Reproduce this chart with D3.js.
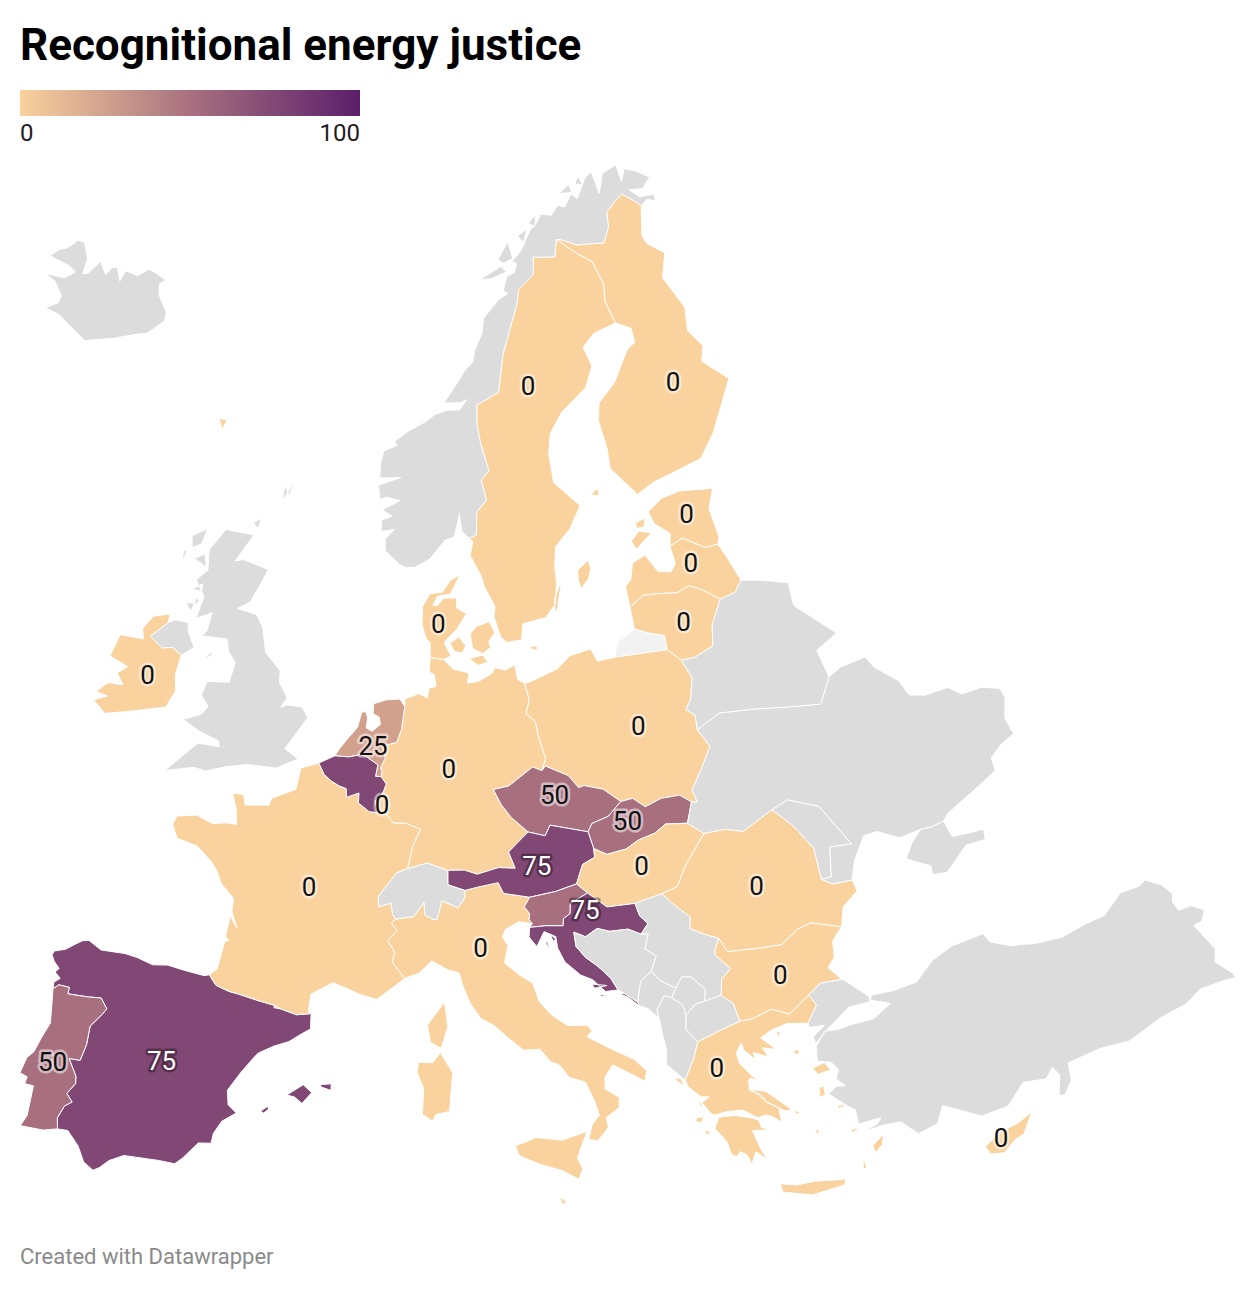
<!DOCTYPE html>
<html>
<head>
<meta charset="utf-8">
<script src="https://cdn.jsdelivr.net/npm/d3@7"></script>
<style>
  body { margin: 0; background: #fff; }
  text { font-family: Roboto, sans-serif; }
</style>
</head>
<body>
<svg id="chart" width="1256" height="1290"></svg>
<script>
// scored countries, in the order of the map labels
const labelNames = ['Sweden','Finland','Estonia','Latvia','Lithuania','Denmark','Ireland','Netherlands','Luxembourg','Germany','Poland','Czechia','Slovakia','Austria','Hungary','Romania','Croatia','Bulgaria','Greece','Italy','France','Spain','Portugal','Cyprus'];
const labelValues = [0,0,0,0,0,0,0,25,0,0,0,50,50,75,0,0,75,0,0,0,0,75,50,0];
const labelLonLat = [[16.27,64.15],[27.4,63.35],[25.87,58.85],[25.37,57.17],[24.1,55.22],[9.15,56.07],[-7.77,53.13],[5.48,51.82],[6.12,49.8],[9.7,51.06],[20.39,52],[15.37,49.99],[19.07,48.82],[14.16,47.6],[19.47,47.2],[25,45.82],[16.4,45.93],[25.25,42.66],[21.63,39.9],[11.17,44.87],[2.6,46.8],[-3.4,40.2],[-8.2,39.43],[33.05,35.2]];
// scored without a label of their own
const unlabelledNames = ['Belgium','Slovenia','Malta'];
const unlabelledValues = [75,50,0];
const legendTicks = [0,100];

// outlines, [lon, lat]
const spain = [
  [[-8.87,41.87],[-8.9,42.1],[-8.65,42.28],[-8.95,42.45],[-8.8,42.6],[-9.1,42.8],[-9.27,43],[-9.2,43.15],[-8.7,43.3],[-8.3,43.55],[-8,43.72],[-7.7,43.78],[-7.05,43.55],[-5.9,43.6],[-5.3,43.55],[-4.5,43.4],[-3.8,43.48],[-3,43.4],[-2,43.32],[-1.78,43.38],[-1.4,43.05],[-0.75,42.9],[-0.3,42.85],[0.7,42.7],[1.45,42.6],[1.75,42.5],[2.5,42.35],[3.18,42.43],[3.18,42.25],[3.2,41.9],[2.8,41.7],[2.25,41.4],[1.6,41.2],[0.9,40.9],[0.7,40.7],[0.2,40.15],[-0.3,39.5],[-0.2,39],[0.2,38.75],[-0.4,38.4],[-0.7,37.95],[-0.75,37.6],[-1.3,37.55],[-1.9,36.95],[-2.2,36.72],[-2.9,36.75],[-4.4,36.72],[-5,36.45],[-5.35,36.15],[-5.6,36.02],[-6.05,36.25],[-6.4,36.75],[-6.95,37.2],[-7.4,37.18],[-7.5,37.55],[-7.3,38],[-7,38.2],[-7.3,38.45],[-7,38.85],[-7.05,39.1],[-7.5,39.65],[-7,39.67],[-6.85,40.25],[-6.85,40.9],[-6.4,41.4],[-6.25,41.6],[-6.6,41.93],[-7.2,41.87],[-7.6,41.85],[-8.15,41.82],[-8.15,42.05],[-8.65,42.05]],
  [[2.35,39.55],[3.05,39.95],[3.45,39.7],[3.05,39.3],[2.7,39.5]],
  [[3.8,40],[4.3,40.05],[4.3,39.82],[3.85,39.92]],
  [[1.25,38.9],[1.55,39.1],[1.6,39],[1.4,38.85]]
];
const portugal = [
  [[-8.87,41.87],[-8.78,41.4],[-8.65,40.7],[-8.9,40.15],[-9.1,39.6],[-9.35,39.35],[-9.5,38.78],[-9.15,38.7],[-9.2,38.45],[-8.8,38.45],[-8.8,37.95],[-8.8,37.4],[-9,37],[-8,37.03],[-7.4,37.18],[-7.5,37.55],[-7.3,38],[-7,38.2],[-7.3,38.45],[-7,38.85],[-7.05,39.1],[-7.5,39.65],[-7,39.67],[-6.85,40.25],[-6.85,40.9],[-6.4,41.4],[-6.25,41.6],[-6.6,41.93],[-7.2,41.87],[-7.6,41.85],[-8.15,41.82],[-8.15,42.05],[-8.65,42.05]]
];
const andorra = [[[1.42,42.52],[1.45,42.65],[1.75,42.62],[1.72,42.5]]];
const france = [
  [[-1.78,43.38],[-1.45,43.6],[-1.25,44.6],[-1.05,44.65],[-1.25,44.75],[-1.15,45.5],[-0.75,45.1],[-1.1,45.65],[-1.1,46.1],[-1.8,46.55],[-2.15,47],[-2.55,47.3],[-3.3,47.7],[-4.4,47.85],[-4.75,48.3],[-4.6,48.6],[-3.6,48.75],[-2.7,48.55],[-2,48.65],[-1.45,48.65],[-1.6,49.2],[-1.9,49.7],[-1.3,49.7],[-1.15,49.35],[0.1,49.45],[0.2,49.7],[1.45,50.1],[1.6,50.85],[2.55,51.08],[2.9,50.7],[3.3,50.5],[3.75,50.35],[4.15,50.27],[4.2,49.97],[4.85,50.15],[4.85,49.8],[5.45,49.52],[5.9,49.5],[6.37,49.46],[6.75,49.17],[7.4,49.17],[8.2,48.97],[7.8,48.4],[7.55,47.6],[7,47.45],[6.9,47.35],[6.45,46.95],[6.1,46.6],[6.15,46.25],[6.75,46.4],[6.85,46],[7,45.85],[6.8,45.7],[7.1,45.45],[6.65,45.1],[7,44.7],[6.9,44.35],[7.5,43.8],[6.9,43.45],[6.2,43.05],[5.4,43.2],[4.7,43.4],[4.1,43.55],[3.1,43.1],[3.03,42.5],[3.18,42.43],[2.5,42.35],[1.75,42.5],[1.45,42.6],[0.7,42.7],[-0.3,42.85],[-0.75,42.9],[-1.4,43.05]],
  [[9.4,43],[9.55,42.15],[9.25,41.4],[8.75,41.6],[8.6,42.2],[9.1,42.7]]
];
const italy = [
  [[7.5,43.8],[6.9,44.35],[7,44.7],[6.65,45.1],[7.1,45.45],[6.8,45.7],[7,45.85],[7.9,45.95],[8.4,46.45],[8.45,46],[8.9,45.85],[9.05,45.85],[9.3,46.5],[10.1,46.25],[10.45,46.6],[10.45,46.85],[11.1,46.95],[12.15,47.08],[12.4,46.7],[13.7,46.52],[13.4,46.2],[13.65,45.95],[13.6,45.75],[13.75,45.6],[13.1,45.7],[12.4,45.45],[12.25,45.2],[12.5,44.9],[12.3,44.3],[13,43.85],[13.6,43.55],[13.85,42.9],[14.4,42.4],[15.1,42],[16,41.95],[16.2,41.75],[15.95,41.55],[17,41.05],[18,40.6],[18.5,40.15],[18.35,39.8],[18,40],[17,40.5],[16.6,40.1],[16.55,39.7],[17.15,39.35],[17.1,39],[16.5,38.7],[16.55,38.35],[16.05,37.93],[15.65,38],[15.85,38.5],[16.2,38.8],[16.05,39.3],[15.7,40],[15,40.2],[14.6,40.65],[14.2,40.8],[13.75,41.25],[13,41.25],[12.25,41.75],[11.7,42.15],[11.1,42.4],[10.6,42.95],[10.3,43.5],[10.1,44],[9.6,44.1],[8.8,44.42],[8.2,44]],
  [[12.45,37.95],[12.85,38.05],[13.35,38.2],[14.5,38.05],[15.6,38.28],[15.1,37.4],[15.3,37],[15.1,36.65],[14.4,37],[13.5,37.25],[12.6,37.6]],
  [[8.2,40.9],[8.85,40.9],[9.2,41.25],[9.75,40.55],[9.6,39.2],[9,39.1],[8.85,38.87],[8.4,39.1],[8.45,40],[8.15,40.55]]
];
const malta = [[[14.2,36.08],[14.55,35.9],[14.35,35.82]]];
const germany = [
  [[8.65,54.9],[9.45,54.83],[10,54.5],[10.95,54.35],[10.85,54],[11.5,54.05],[12.3,54.3],[12.5,54.5],[13.1,54.4],[13.7,54.55],[13.8,54.05],[14.2,53.9],[14.4,53.3],[14.15,52.85],[14.65,52.55],[14.75,52.05],[15.05,51.25],[14.8,50.85],[14.3,51],[12.95,50.4],[12.1,50.3],[12.5,49.75],[13,49.3],[13.83,48.77],[13.45,48.55],[12.75,48.12],[13.05,47.55],[12.2,47.6],[11.1,47.4],[10.45,47.55],[9.6,47.55],[8.55,47.8],[7.55,47.6],[7.8,48.4],[8.2,48.97],[7.4,49.17],[6.75,49.17],[6.37,49.46],[6.5,49.8],[6.1,50.13],[6.3,50.5],[6,50.75],[6.05,50.9],[5.95,51.05],[6.2,51.4],[6,51.8],[6.8,51.95],[7.05,52.4],[7.2,53.2],[7.2,53.45],[8,53.65],[8.5,53.5],[8.6,53.85],[9,53.9],[8.9,54.3],[8.6,54.4]]
];
const netherlands = [
  [[3.4,51.37],[4.2,51.37],[4.8,51.47],[5.1,51.43],[5.55,51.25],[5.8,51.15],[5.7,50.75],[6,50.75],[6.05,50.9],[5.95,51.05],[6.2,51.4],[6,51.8],[6.8,51.95],[7.05,52.4],[7.2,53.2],[6.9,53.45],[6.1,53.4],[5.4,53.25],[5.4,52.9],[5.75,52.8],[5.85,52.55],[5.4,52.3],[5.05,52.4],[5.1,52.75],[5,52.95],[4.75,52.95],[4.55,52.4],[4.05,52],[3.6,51.6]]
];
const belgium = [
  [[2.55,51.08],[3.4,51.37],[4.2,51.37],[4.8,51.47],[5.1,51.43],[5.55,51.25],[5.8,51.15],[5.7,50.75],[6,50.75],[6.3,50.5],[6.1,50.13],[5.75,49.9],[5.9,49.5],[5.45,49.52],[4.85,49.8],[4.85,50.15],[4.2,49.97],[4.15,50.27],[3.75,50.35],[3.3,50.5],[2.9,50.7]]
];
const luxembourg = [[[6.1,50.13],[6.5,49.8],[6.37,49.46],[5.9,49.5],[5.75,49.9]]];
const denmark = [
  [[8.65,54.9],[9.45,54.83],[9.9,54.95],[9.5,55.4],[9.7,55.55],[10.25,55.85],[10.9,56.4],[10.3,56.6],[10.3,56.95],[9.5,56.95],[9.1,56.7],[8.8,56.7],[9.1,57.02],[9.9,57.08],[10.55,57.75],[9.9,57.55],[9.4,57.15],[8.6,57.1],[8.15,56.65],[8.15,56],[8.4,55.55],[8.65,55.4]],
  [[9.85,55.4],[10.4,55.6],[10.8,55.3],[10.6,55.05],[10.1,55.1]],
  [[11.1,55.7],[11.5,55.95],[12.3,56.1],[12.6,55.7],[12.2,55.4],[12.3,55.2],[11.8,55],[11.2,55.2]],
  [[11,54.85],[11.8,54.95],[12.1,54.7],[11.5,54.6]],
  [[14.7,55.15],[15.1,55.15],[15.1,55],[14.75,55.05]],
  [[-7.2,62.3],[-6.6,62.3],[-6.8,61.95]]
];
const sweden = [
  [[11.2,59],[11.45,58.9],[11.25,58.4],[11.9,57.7],[12.1,57.3],[12.7,56.6],[12.6,56.25],[12.95,55.55],[13.3,55.35],[14.2,55.4],[14.35,55.95],[15.8,56.1],[16.5,56.55],[16.7,57.3],[16.7,57.8],[16.9,58.5],[18,59.05],[18.9,59.8],[17.3,60.7],[17.2,61.7],[17.5,62.4],[18.6,63.1],[20.7,63.8],[21.5,64.5],[21.1,65.2],[22.2,65.6],[24.15,65.8],[23.7,66.6],[23.95,67.2],[23.4,68.05],[22,68.5],[20.55,69.05],[20.1,68.45],[18.1,68.55],[17.9,67.95],[16.4,67.5],[16.1,67],[14.5,65.3],[14.1,64.45],[13.9,64],[12.15,63.6],[12.1,62.9],[12.3,62.25],[12.8,61.3],[12.2,61],[12.5,60.3],[11.8,59.9],[11.7,59.1]],
  [[18.1,57.25],[18.15,57.6],[18.9,57.9],[19,57.6],[18.75,57.25],[18.2,56.95]],
  [[16.4,56.2],[16.45,56.7],[17.05,57.35],[16.6,56.4]]
];
const finland = [
  [[24.15,65.8],[25.3,65.5],[25.3,65],[24.55,64.8],[23,63.8],[21.5,63.2],[21.2,62.6],[21.45,61.6],[21.4,60.9],[22,60.5],[22.9,59.85],[24.2,60.15],[25.5,60.3],[27.8,60.55],[29.2,61.3],[31.55,62.9],[30,63.75],[30.5,64.25],[29.7,64.9],[30.1,65.7],[29.1,66.9],[30,67.7],[28.7,68.2],[28.5,68.5],[28.95,69.05],[29.35,69.5],[28.9,69.7],[27.9,70.08],[27,69.9],[25.9,69.6],[25.7,69.1],[24.9,68.6],[22.4,68.72],[21,69],[20.55,69.05],[22,68.5],[23.4,68.05],[23.95,67.2],[23.7,66.6]],
  [[19.7,60.1],[20.3,60.3],[20.3,60.05]]
];
const norway = [
  [[11.2,59],[10.75,59.25],[10.6,59.85],[10.45,59.5],[10.2,59.05],[9.6,58.95],[8.6,58.3],[7.6,58],[7,58],[6.6,58.1],[5.65,58.55],[5.6,58.95],[6.2,59.3],[5.3,59.2],[5.3,59.6],[6,59.75],[5.3,59.95],[6.5,60.3],[5.5,60.4],[5.1,60.3],[4.95,60.8],[6.5,61.1],[5,61.05],[5,61.6],[5.2,62],[6.1,62.2],[5.95,62.35],[6.9,62.7],[8.2,63.05],[8.9,63.3],[9.8,63.45],[10.8,63.45],[11.4,63.8],[10.9,63.7],[9.6,63.7],[10.7,64.4],[11.3,64.8],[12,65.1],[12.2,65.5],[12.9,66.1],[13.1,66.6],[14.5,67.2],[15.4,67.4],[15,67.5],[15.5,68],[16.2,68.1],[16.5,68.4],[16.1,68.5],[17,68.8],[17.5,69.1],[18.2,69.5],[19,69.75],[19.5,70],[20.5,69.9],[21.3,70.2],[22,70.1],[22.9,70.5],[23.4,70.3],[24.7,70.95],[25.5,71.1],[25.7,70.3],[26.6,70.95],[27.5,71.05],[28.2,71.1],[28.25,70.5],[28.9,70.9],[30,70.7],[31.1,70.35],[30,70.05],[28.7,70.15],[29.5,69.8],[30.9,69.75],[30.85,69.5],[30.1,69.65],[29.35,69.5],[28.9,69.7],[27.9,70.08],[27,69.9],[25.9,69.6],[25.7,69.1],[24.9,68.6],[22.4,68.72],[21,69],[20.55,69.05],[20.1,68.45],[18.1,68.55],[17.9,67.95],[16.4,67.5],[16.1,67],[14.5,65.3],[14.1,64.45],[13.9,64],[12.15,63.6],[12.1,62.9],[12.3,62.25],[12.8,61.3],[12.2,61],[12.5,60.3],[11.8,59.9],[11.7,59.1]],
  [[13,67.95],[15,68.35],[15.5,68.15],[14,67.95]],
  [[14.8,68.6],[15.9,69.2],[16.2,68.6],[15.3,68.45]],
  [[16.9,69.35],[17.9,69.55],[17.4,69.1]],
  [[18.1,69.75],[19,70],[18.7,69.6]],
  [[21.7,70.6],[22.9,70.85],[23,70.55]],
  [[23.5,70.8],[24,71.05],[24.3,70.75]]
];
const estonia = [
  [[23.4,59.2],[24.5,59.55],[25.8,59.65],[28,59.45],[27.4,58.8],[27.55,57.8],[27.35,57.55],[26.5,57.55],[25.2,58.05],[24.3,57.87],[24.5,58.3],[23.6,58.75]],
  [[21.9,58.3],[22.5,58.6],[23.3,58.45],[22.1,58]],
  [[22.4,58.9],[23.1,59],[22.9,58.7],[22.4,58.7]]
];
const latvia = [
  [[21,56.8],[21.05,56.07],[22,56.4],[23,56.35],[24.1,56.25],[24.9,56.4],[25.7,56.15],[26.6,55.7],[27.6,55.8],[28.15,56.15],[27.7,57],[27.35,57.55],[26.5,57.55],[25.2,58.05],[24.3,57.87],[24.4,57.25],[24,57],[23.2,57.1],[22.6,57.75],[21.7,57.55],[21.4,57]]
];
const lithuania = [
  [[21.05,56.07],[21.1,55.3],[22,55.05],[22.8,54.9],[22.8,54.4],[23.5,53.95],[24.3,53.95],[25.5,54.2],[25.75,54.9],[26.6,55.7],[25.7,56.15],[24.9,56.4],[24.1,56.25],[23,56.35],[22,56.4]]
];
const kaliningrad = [[[19.65,54.45],[19.9,54.85],[20,54.95],[21.1,55.3],[22,55.05],[22.8,54.9],[22.8,54.4]]];
const poland = [
  [[14.2,53.9],[14.6,53.95],[16.2,54.3],[17,54.7],[18.3,54.85],[18.6,54.4],[19.65,54.45],[22.8,54.4],[23.5,53.95],[23.9,53.3],[23.6,52.6],[23.2,52.25],[23.65,52],[23.6,51.5],[24.1,50.85],[23.5,50.25],[22.7,49.5],[22.85,49.05],[22.55,49.1],[22,49.4],[21,49.4],[20.1,49.2],[19.5,49.55],[18.85,49.5],[18,50],[17,50.2],[16.7,50.15],[16.2,50.6],[15,51],[14.8,50.85],[15.05,51.25],[14.75,52.05],[14.65,52.55],[14.15,52.85],[14.4,53.3]]
];
const czechia = [
  [[12.1,50.3],[12.95,50.4],[14.3,51],[14.8,50.85],[15,51],[16.2,50.6],[16.7,50.15],[17,50.2],[18,50],[18.85,49.5],[18.1,49.05],[17.2,48.87],[16.95,48.6],[15,48.95],[14.7,48.6],[13.83,48.77],[13,49.3],[12.5,49.75]]
];
const slovakia = [
  [[16.95,48.6],[17.2,48.87],[18.1,49.05],[18.85,49.5],[19.5,49.55],[20.1,49.2],[21,49.4],[22,49.4],[22.55,49.1],[22.15,48.4],[21,48.5],[20.4,48.25],[19.5,48.1],[18.8,47.85],[17.8,47.75],[17.15,48]]
];
const austria = [
  [[9.6,47.55],[10.45,47.55],[11.1,47.4],[12.2,47.6],[13.05,47.55],[12.75,48.12],[13.45,48.55],[13.83,48.77],[14.7,48.6],[15,48.95],[16.95,48.6],[17.15,48],[17.15,47.7],[16.5,47.5],[16.1,46.85],[15,46.65],[13.7,46.52],[12.4,46.7],[12.15,47.08],[11.1,46.95],[10.45,46.85],[9.6,47.05]]
];
const hungary = [
  [[16.1,46.85],[16.5,47.5],[17.15,47.7],[17.15,48],[17.8,47.75],[18.8,47.85],[19.5,48.1],[20.4,48.25],[21,48.5],[22.15,48.4],[22.9,47.95],[21.7,47],[21.1,46.3],[20.3,46.15],[18.9,45.95],[17.5,45.95],[16.6,46.5]]
];
const slovenia = [
  [[13.7,46.52],[15,46.65],[16.1,46.85],[16.6,46.5],[15.7,46.2],[15.65,45.85],[15.3,45.7],[15.25,45.45],[14.4,45.5],[13.6,45.48],[13.75,45.6],[13.6,45.75],[13.65,45.95],[13.4,46.2]]
];
const croatia = [
  [[13.6,45.48],[14.4,45.5],[15.25,45.45],[15.3,45.7],[15.65,45.85],[15.7,46.2],[16.6,46.5],[17.5,45.95],[18.9,45.95],[19.05,45.5],[19.4,45.2],[19,44.87],[18.4,45.1],[17.5,45.1],[16.9,45.25],[16.3,45],[15.75,45.2],[15.8,44.7],[16.2,44.3],[16.75,43.95],[17.3,43.5],[17.6,43.05],[17,43.05],[16.45,43.5],[15.9,43.7],[15.2,44.2],[14.9,44.7],[14.85,45.1],[14.3,45.3],[13.9,44.8],[13.55,45.15]],
  [[17.6,42.93],[18,42.78],[18.5,42.42],[18.45,42.55],[17.9,42.9]],
  [[14.4,45],[14.55,44.65],[14.35,44.9]],
  [[14.6,45.2],[14.85,45],[14.7,44.95]],
  [[16.4,43.35],[17.1,43.25],[16.5,43.2]],
  [[16.7,42.97],[17.2,42.93],[16.8,42.9]]
];
const bosnia = [
  [[15.75,45.2],[16.3,45],[16.9,45.25],[17.5,45.1],[18.4,45.1],[19,44.87],[19.35,44.85],[19.1,44.35],[19.6,44.05],[19.25,43.55],[18.7,43.25],[18.45,42.55],[17.9,42.9],[17.6,43.05],[17.3,43.5],[16.75,43.95],[16.2,44.3],[15.8,44.7]]
];
const serbia = [
  [[18.9,45.95],[20.3,46.15],[20.75,45.75],[21.5,45.2],[21.4,44.8],[22,44.55],[22.7,44.3],[22.4,43.9],[22.4,43.75],[23,43.2],[22.5,42.9],[22.35,42.35],[21.55,42.25],[21.65,42.65],[21.1,43.15],[20.65,43.2],[20.3,42.85],[19.6,43.2],[19.25,43.55],[19.6,44.05],[19.1,44.35],[19.35,44.85],[19,44.87],[19.4,45.2],[19.05,45.5]]
];
const kosovo = [[[20.05,42.55],[20.3,42.85],[20.65,43.2],[21.1,43.15],[21.65,42.65],[21.55,42.25],[21.1,42.2],[20.6,41.87],[20.5,42.25]]];
const montenegro = [[[18.45,42.55],[18.7,43.25],[19.25,43.55],[19.6,43.2],[20.3,42.85],[20.05,42.55],[19.7,42.65],[19.3,42.2],[19.35,41.9],[18.9,42.28],[18.5,42.42]]];
const albania = [[[19.35,41.9],[19.3,42.2],[19.7,42.65],[20.05,42.55],[20.5,42.25],[20.6,41.87],[20.5,41.4],[20.95,40.9],[20.7,40.4],[20.15,39.65],[19.4,40.3],[19.5,40.75],[19.4,41.4]]];
const macedonia = [[[20.6,41.87],[21.1,42.2],[21.55,42.25],[22.35,42.35],[22.85,42],[23,41.35],[22,41.15],[20.95,40.9],[20.5,41.4]]];
const bulgaria = [
  [[22.7,44.3],[23,43.8],[24.5,43.7],[25.6,43.65],[26.5,44.05],[27.2,44.15],[28.58,43.75],[28,43.35],[27.9,42.8],[27.5,42.5],[28,42],[27,42.05],[26.35,41.75],[25.3,41.25],[24.5,41.55],[23.6,41.35],[23,41.35],[22.85,42],[22.35,42.35],[22.5,42.9],[23,43.2],[22.4,43.75],[22.4,43.9]]
];
const romania = [
  [[20.3,46.15],[21.1,46.3],[21.7,47],[22.9,47.95],[24,47.95],[24.9,47.75],[26.6,48.25],[27.5,47.5],[28.2,46.6],[28.2,45.5],[28.7,45.25],[29.65,45.2],[29.75,44.8],[28.9,44.4],[28.58,43.75],[27.2,44.15],[26.5,44.05],[25.6,43.65],[24.5,43.7],[23,43.8],[22.7,44.3],[22,44.55],[21.4,44.8],[21.5,45.2],[20.75,45.75]]
];
const moldova = [[[26.6,48.25],[27.5,48.45],[29,47.95],[30.1,46.4],[29,46.5],[28.7,45.5],[28.2,45.5],[28.2,46.6],[27.5,47.5]]];
const ukraine = [
  [[22.15,48.4],[22.55,49.1],[22.85,49.05],[22.7,49.5],[23.5,50.25],[24.1,50.85],[23.6,51.5],[25,51.9],[27,51.75],[29,51.5],[30.6,51.3],[31.5,52.1],[32.3,52.3],[33.8,52.35],[34.1,51.9],[34.4,51.7],[35.1,51.2],[35.4,50.6],[36.2,50.4],[37.5,50.35],[38.1,49.95],[39.2,49.9],[40.1,49.6],[40.15,49.25],[39.7,48.6],[39.8,48],[39,47.85],[38.25,47.55],[38.2,47.1],[36.8,46.75],[35.2,46.35],[34.85,46.15],[34.2,46.1],[33.65,46.15],[32.5,46.1],[31.5,46.55],[30.8,46.55],[30,45.8],[29.65,45.2],[28.7,45.25],[28.2,45.5],[28.7,45.5],[29,46.5],[30.1,46.4],[29,47.95],[27.5,48.45],[26.6,48.25],[24.9,47.75],[24,47.95],[22.9,47.95]],
  [[33.65,46.15],[33,45.8],[32.5,45.35],[33,45.1],[33.55,44.85],[33.5,44.55],[34.2,44.45],[35,44.85],[35.5,45.1],[36.5,45.05],[36.6,45.4],[35.9,45.45],[35,45.55],[34.85,46.15],[34.2,46.1]]
];
const belarus = [
  [[23.6,52.6],[23.9,53.3],[23.5,53.95],[24.3,53.95],[25.5,54.2],[25.75,54.9],[26.6,55.7],[27.6,55.8],[28.15,56.15],[29.4,55.95],[30.9,55.6],[30.8,54.8],[32.7,53.45],[31.3,53.1],[31.5,52.1],[30.6,51.3],[29,51.5],[27,51.75],[25,51.9],[23.6,51.5],[23.65,52],[23.2,52.25]]
];
const switzerland = [
  [[7.55,47.6],[8.55,47.8],[9.6,47.55],[9.6,47.05],[10.45,46.85],[10.45,46.6],[10.1,46.25],[9.3,46.5],[9.05,45.85],[8.9,45.85],[8.45,46],[8.4,46.45],[7.9,45.95],[7,45.85],[6.85,46],[6.75,46.4],[6.15,46.25],[6.1,46.6],[6.45,46.95],[6.9,47.35],[7,47.45]]
];
const greece = [
  [[20.15,39.65],[20.7,40.4],[20.95,40.9],[22,41.15],[23,41.35],[23.6,41.35],[24.5,41.55],[25.3,41.25],[26.35,41.75],[26.6,41.35],[26.05,40.8],[25.1,40.95],[24.4,40.85],[23.8,40.65],[24.4,40.15],[23.8,40.3],[24,39.95],[23.35,40.2],[23.4,39.95],[22.95,40.35],[22.9,40.6],[22.6,40.3],[22.65,39.95],[23,39.55],[23.35,39.2],[23.05,39.35],[22.95,39.3],[22.9,38.95],[23.4,38.7],[23.55,38.45],[24.05,38.15],[24.05,37.65],[23.7,37.9],[23.4,38],[23.1,37.95],[22.9,38.05],[22.5,38.3],[21.8,38.35],[21.25,38.3],[21.1,38.35],[20.75,38.8],[21.1,38.95],[20.75,39],[20.25,39.4]],
  [[21.7,38.2],[22.2,38.15],[22.9,37.95],[23.1,37.85],[23.15,37.6],[23.5,37.45],[22.75,37.55],[23,36.8],[23.2,36.45],[22.75,36.8],[22.5,36.4],[22.35,36.75],[22.1,36.9],[21.9,36.75],[21.7,36.85],[21.6,37.3],[21.15,37.85],[21.4,38.2]],
  [[23.55,35.55],[24.2,35.4],[25,35.4],[25.75,35.3],[26.3,35.25],[26.2,35.05],[24.8,34.95],[23.6,35.25]],
  [[23,38.95],[23.6,38.8],[24.6,38],[24.3,38],[23.6,38.4]],
  [[19.65,39.75],[19.95,39.75],[20.1,39.45]],
  [[20.45,38.3],[20.75,38.3],[20.6,38.1],[20.35,38.2]],
  [[20.6,38.8],[20.75,38.8],[20.7,38.6]],
  [[20.65,37.85],[20.95,37.75],[20.8,37.65]],
  [[25.85,39.25],[26.4,39.35],[26.6,39.05],[26,39]],
  [[25.05,39.95],[25.4,40],[25.35,39.8]],
  [[25.95,38.55],[26.15,38.55],[26.15,38.25],[25.9,38.2]],
  [[26.6,37.8],[27.05,37.75],[26.6,37.68]],
  [[27.7,36.15],[28.25,36.45],[28.1,36.1],[27.75,35.9]],
  [[24.55,40.75],[24.75,40.7],[24.6,40.55]],
  [[27.1,35.45],[27.2,35.85],[27.25,35.45]],
  [[25.4,37.15],[25.6,37.1],[25.5,36.95]],
  [[26.9,36.85],[27.3,36.9],[27,36.75]],
  [[24.7,37.95],[24.95,37.85],[24.75,37.8]]
];
const cyprus = [[[32.3,35.05],[33,35.35],[34,35.5],[34.6,35.7],[34,35.05],[33.6,34.97],[33,34.65],[32.45,34.75]]];
const turkey = [
  [[26.35,41.75],[27,42.05],[28.05,41.98],[28.9,41.3],[29.05,41.15],[29,41],[28,41],[27.4,40.7],[26.75,40.4],[26.2,40.05],[26.15,40.3],[26.75,40.6],[26.05,40.65],[26.05,40.8],[26.6,41.35]],
  [[26.1,39.45],[26.2,39.95],[26.7,40.4],[27.3,40.35],[28,40.4],[29,40.4],[29.9,40.75],[29.05,41.05],[29.15,41.2],[30.2,41.15],[31.3,41.2],[32.3,41.75],[33.3,42],[34.9,42.05],[35.1,41.7],[36,41.3],[36.4,41.25],[37,41.1],[38.3,40.95],[39.6,41.05],[40.5,41.05],[41.55,41.52],[42.5,41.45],[42.85,41.55],[43.45,41.15],[43.75,40.7],[43.6,40.45],[43.7,40.1],[44.3,40.05],[44.77,39.7],[44.45,39.4],[44.05,39.4],[44.3,38.8],[44.5,38.35],[44.25,37.95],[44.75,37.35],[44.8,37.15],[44.25,37.25],[43.2,37.35],[42.35,37.1],[41.2,37.05],[39.5,36.75],[38.2,36.9],[36.7,36.85],[36.6,36.25],[36.15,35.85],[35.9,35.9],[36.2,36.55],[36,36.9],[35.6,36.6],[34.6,36.75],[33.7,36.15],[32.5,36.1],[31,36.85],[30.6,36.3],[29.7,36.15],[29.1,36.7],[28.3,36.75],[27.4,36.7],[28.1,36.85],[28.3,37.02],[27.3,37],[27.3,37.5],[27,37.7],[26.3,38.25],[26.7,38.45],[27.1,38.4],[26.75,38.7],[26.95,39],[26.7,39.3]]
];
const uk = [
  [[-5.7,50.05],[-4.2,50.35],[-3.5,50.3],[-2.5,50.55],[-1.3,50.75],[0.25,50.75],[1.4,51.15],[0.6,51.45],[1.7,52.6],[1.3,52.95],[0.4,52.95],[0.1,52.85],[0.4,53.2],[-0.15,53.7],[-0.2,54.1],[-1.2,54.65],[-1.6,55.5],[-2.1,55.9],[-3.3,56],[-2.6,56.3],[-2.05,57.1],[-1.8,57.5],[-3.5,57.7],[-4,57.6],[-3.1,58.6],[-5,58.6],[-5.8,57.8],[-5.6,57.1],[-6.2,56.7],[-5.5,56.2],[-5.7,55.4],[-4.8,55.7],[-4.9,55.05],[-5.15,54.85],[-3.6,54.9],[-3.4,54.5],[-2.9,54.15],[-3.05,53.45],[-4.3,53.35],[-4.5,52.85],[-4,52.5],[-4.3,52.2],[-5.25,51.9],[-4.2,51.6],[-3.1,51.4],[-3,51.2],[-4.2,51.2]],
  [[-6,54.9],[-5.45,54.4],[-6.1,54.05],[-6.7,54.25],[-7.3,54.15],[-8.15,54.45],[-7.3,55.05],[-6.9,55.2],[-6.1,55.2]],
  [[-7.1,58.15],[-6.2,58.5],[-6.35,57.95],[-6.9,57.75]],
  [[-7.4,57.6],[-7.2,57.6],[-7.3,57.1]],
  [[-6.6,57.4],[-6,57.65],[-5.75,57.2]],
  [[-6.35,56.35],[-5.75,56.6],[-5.7,56.35]],
  [[-6.5,55.85],[-6,55.9],[-6.1,55.6]],
  [[-5.95,56.1],[-5.7,56],[-6,55.85]],
  [[-4.8,54.05],[-4.35,54.4],[-4.35,54.25]],
  [[-3.3,59],[-2.8,59.2],[-2.9,58.85]],
  [[-1.6,59.9],[-0.9,60.7],[-1.2,60.1],[-1.6,60.5]]
];
const ireland = [
  [[-6.1,54.05],[-6.2,53.35],[-6,52.8],[-6.35,52.2],[-8.4,51.75],[-9.6,51.5],[-10.4,51.85],[-9.7,52.1],[-10.4,52.15],[-9.85,52.55],[-9,52.6],[-9.5,52.95],[-9,53.25],[-10.15,53.45],[-9.9,54.25],[-8.5,54.3],[-8.7,54.65],[-8.25,55.15],[-7.3,55.35],[-7.3,55.05],[-8.15,54.45],[-7.3,54.15],[-6.7,54.25]]
];
const iceland = [
  [[-24.4,65.5],[-24,65.85],[-23.5,66],[-23.2,66.2],[-23,66.4],[-22.4,66.45],[-21.5,66],[-21.3,65.45],[-20.9,65.55],[-20.4,66.1],[-19.5,65.75],[-19.3,66.05],[-18.9,66.15],[-18.2,65.75],[-18.1,66.15],[-17,66.15],[-16.3,66.5],[-15.5,66.45],[-14.6,66.35],[-15,66.15],[-14.7,65.8],[-13.6,65.3],[-13.5,65],[-14.5,64.4],[-15.2,64.27],[-16.8,63.85],[-18.8,63.4],[-20.3,63.65],[-21.5,63.85],[-22.7,63.85],[-22,64.2],[-22,64.45],[-23,64.8],[-24,64.9],[-22.5,65.05],[-21.9,65.4],[-22.6,65.5]]
];

const shapes = {
  Spain: spain, Portugal: portugal, Andorra: andorra, France: france, Italy: italy, Malta: malta, Germany: germany,
  Netherlands: netherlands, Belgium: belgium, Luxembourg: luxembourg, Denmark: denmark, Sweden: sweden,
  Finland: finland, Norway: norway, Estonia: estonia, Latvia: latvia, Lithuania: lithuania,
  Kaliningrad: kaliningrad, Poland: poland, Czechia: czechia, Slovakia: slovakia, Austria: austria,
  Hungary: hungary, Slovenia: slovenia, Croatia: croatia, Bosnia: bosnia, Serbia: serbia, Kosovo: kosovo,
  Montenegro: montenegro, Albania: albania, Macedonia: macedonia, Bulgaria: bulgaria, Romania: romania,
  Moldova: moldova, Ukraine: ukraine, Belarus: belarus, Switzerland: switzerland, Greece: greece,
  Cyprus: cyprus, Turkey: turkey, UK: uk, Ireland: ireland, Iceland: iceland
};

const svg = d3.select('#chart');
const color = d3.scaleLinear().domain([0, 50, 100]).range(['#f9d29d', '#a8707f', '#5b1f6b']);

const scores = new Map();
labelNames.forEach((n, i) => scores.set(n, labelValues[i]));
unlabelledNames.forEach((n, i) => scores.set(n, unlabelledValues[i]));

const projection = d3.geoAzimuthalEqualArea()
  .rotate([-9, -52])
  .scale(1660)
  .translate([436, 741.5])
  .clipAngle(90);

const ringPath = d3.line().curve(d3.curveLinearClosed);
const toPath = rings => rings.map(r => ringPath(r.map(p => projection(p)))).join('');

// title and legend
svg.append('text').attr('x', 20).attr('y', 60)
  .attr('font-size', 44).attr('font-weight', 700).attr('fill', '#000')
  .text('Recognitional energy justice');

const grad = svg.append('defs').append('linearGradient').attr('id', 'legend-grad');
d3.range(0, 101, 10).forEach(v => {
  grad.append('stop').attr('offset', v + '%').attr('stop-color', color(v));
});
const legendX = d3.scaleLinear().domain([0, 100]).range([20, 360]);
svg.append('rect').attr('x', legendX(0)).attr('y', 90)
  .attr('width', legendX(100) - legendX(0)).attr('height', 26)
  .attr('fill', 'url(#legend-grad)');
svg.selectAll('.legend-tick').data(legendTicks).join('text')
  .attr('class', 'legend-tick')
  .attr('x', d => legendX(d)).attr('y', 141)
  .attr('text-anchor', d => d === 0 ? 'start' : 'end')
  .attr('font-size', 24).attr('fill', '#1d1d1d')
  .text(d => d);

// countries
const names = Object.keys(shapes);
svg.append('g').selectAll('path').data(names).join('path')
  .attr('d', d => toPath(shapes[d]))
  .attr('fill', d => d === 'Kaliningrad' ? '#f2f2f2' : (scores.has(d) ? color(scores.get(d)) : '#dcdcdc'))
  .attr('stroke', '#fff')
  .attr('stroke-width', 1)
  .attr('stroke-linejoin', 'round');

// value labels with a halo
svg.append('g').selectAll('text').data(labelNames).join('text')
  .attr('transform', (d, i) => `translate(${projection(labelLonLat[i])})`)
  .attr('text-anchor', 'middle').attr('dy', '0.36em')
  .attr('font-size', 26)
  .attr('fill', (d, i) => labelValues[i] >= 75 ? '#fff' : '#111')
  .attr('stroke', (d, i) => labelValues[i] >= 75 ? 'rgba(0,0,0,0.35)' : 'rgba(255,255,255,0.5)')
  .attr('stroke-width', 5)
  .attr('stroke-linejoin', 'round')
  .attr('paint-order', 'stroke')
  .text((d, i) => labelValues[i]);

svg.append('text').attr('x', 20).attr('y', 1264)
  .attr('font-size', 22).attr('fill', '#8a8a8a')
  .text('Created with Datawrapper');
</script>
</body>
</html>
